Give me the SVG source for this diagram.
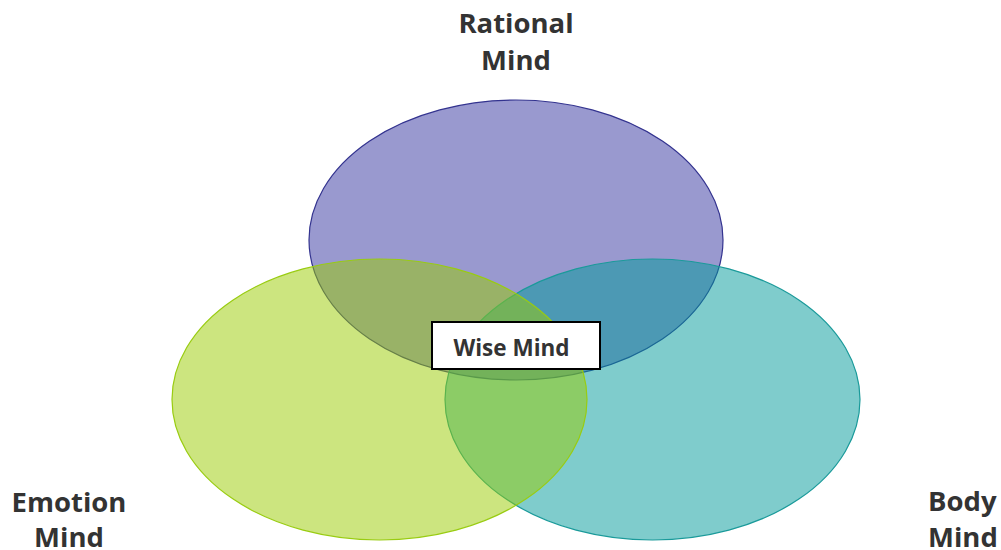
<svg xmlns="http://www.w3.org/2000/svg" width="1001" height="550" viewBox="0 0 1001 550">
  <style>
    .label { font-family: "Open Sans", "Noto Sans", "Liberation Sans", sans-serif; font-weight: bold; font-size: 27.5px; fill: #333333; }
    .wise { font-family: "Open Sans", "Noto Sans", "Liberation Sans", sans-serif; font-weight: bold; font-size: 22.5px; fill: #333333; }
  </style>
  <rect width="1001" height="550" fill="#ffffff"/>
  <g id="rational">
    <ellipse cx="516" cy="240" rx="207" ry="140" fill="#3333a0" fill-opacity="0.5" stroke="#33338f" stroke-width="1.2"/>
  </g>
  <g id="body">
    <ellipse cx="652.5" cy="399.5" rx="207.5" ry="140.5" fill="#009999" fill-opacity="0.5" stroke="#1a9a9a" stroke-width="1.2"/>
  </g>
  <g id="emotion">
    <ellipse cx="379.5" cy="399.5" rx="207.5" ry="140.5" fill="#99cc00" fill-opacity="0.5" stroke="#99cc11" stroke-width="1.2"/>
  </g>
  <g id="wise-mind">
    <rect x="432" y="322" width="168" height="47" fill="#ffffff" stroke="#000000" stroke-width="2"/>
    <text class="wise" x="511.5" y="356" text-anchor="middle">Wise Mind</text>
  </g>
  <g id="labels">
    <text class="label" x="516" y="33" text-anchor="middle">Rational</text>
    <text class="label" x="516" y="70" text-anchor="middle">Mind</text>
    <text class="label" x="69" y="512" text-anchor="middle">Emotion</text>
    <text class="label" x="69" y="547" text-anchor="middle">Mind</text>
    <text class="label" x="928" y="511">Body</text>
    <text class="label" x="928" y="547">Mind</text>
  </g>
</svg>
